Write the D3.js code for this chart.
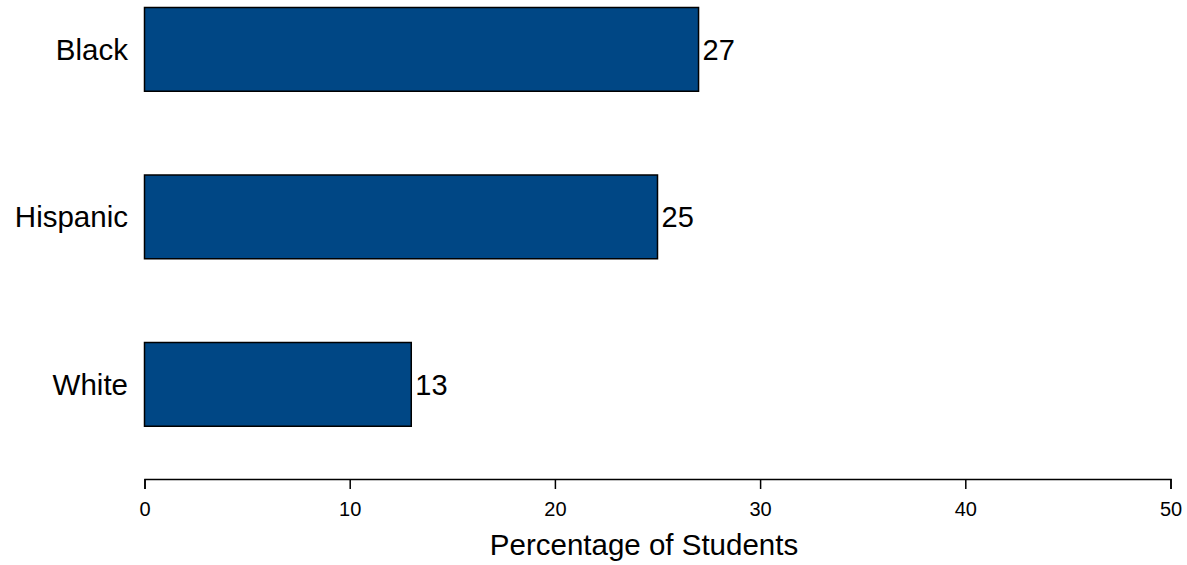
<!DOCTYPE html>
<html><head><meta charset="utf-8">
<script src="https://cdn.jsdelivr.net/npm/d3@7"></script>
<style>body{margin:0;background:#fff}svg{display:block;font-family:"Liberation Sans",Arial,Helvetica,sans-serif}</style>
</head><body><svg id="c" width="1187" height="565"></svg>
<script>
const categories = ["Black", "Hispanic", "White"];
const values = [27, 25, 13];
const xTicks = [0, 10, 20, 30, 40, 50];
const xTitle = "Percentage of Students";

const svg = d3.select("#c");
const x = d3.scaleLinear().domain([0, 50]).range([144.5, 1170.5]);
const y = d3.scaleBand().domain(categories).range([-76.25, 510]).paddingInner(0.5).paddingOuter(0.5);

const g = svg.append("g");
g.selectAll("rect.bar").data(values).join("rect")
  .attr("class","bar")
  .attr("x", x(0))
  .attr("y", (d,i)=>y(categories[i]))
  .attr("width", d=>x(d)-x(0))
  .attr("height", y.bandwidth())
  .attr("fill", "#004785")
  .attr("stroke", "#000")
  .attr("stroke-width", 1.5);

g.selectAll("text.val").data(values).join("text")
  .attr("class","val")
  .attr("x", d=>x(d)+4)
  .attr("y", (d,i)=>y(categories[i])+y.bandwidth()/2)
  .attr("dy", "0.36em")
  .attr("font-size", 29)
  .text(d=>d);

g.selectAll("text.cat").data(categories).join("text")
  .attr("class","cat")
  .attr("x", 128)
  .attr("y", d=>y(d)+y.bandwidth()/2)
  .attr("dy", "0.36em")
  .attr("text-anchor","end")
  .attr("font-size", 29.5)
  .text(d=>d);

const axis = d3.axisBottom(x).tickValues(xTicks).tickSize(10).tickPadding(13).tickFormat(d3.format("d"));
const ax = svg.append("g").attr("transform","translate(0,479)").call(axis);
ax.select(".domain").attr("stroke","#000").attr("stroke-width",1.5);
ax.selectAll(".tick line").attr("stroke","#000").attr("stroke-width",1.5);
ax.selectAll(".tick text").attr("font-size",20).attr("fill","#000").attr("font-family",'"Liberation Sans",Arial,sans-serif');

svg.append("text").attr("x", 644).attr("y", 555).attr("text-anchor","middle")
  .attr("font-size", 29.5).text(xTitle);
</script></body></html>
